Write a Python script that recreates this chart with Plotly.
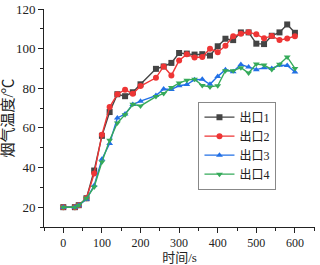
import plotly.graph_objects as go

time_s = [0, 30, 40, 60, 80, 100, 120, 140, 160, 180, 200, 240, 260, 280, 300,
          320, 340, 360, 380, 400, 420, 440, 460, 480, 500, 520, 540, 560, 580, 600]

outlet1 = [20, 20, 21, 24.5, 38.5, 56, 68, 77, 76, 78, 82, 89.8, 91, 92.8, 97.8,
           97.5, 97, 97.2, 96.5, 101.2, 105, 104.3, 108.2, 108.2, 102.5, 102.3, 106.5, 108.2, 112.2, 108]
outlet2 = [20, 20, 21, 24.5, 37, 56.5, 70.5, 77, 79.3, 77.2, 81.1, 85.3, 91, 86.5, 94,
           97.2, 95.5, 95.8, 100, 98.2, 101.4, 106.2, 107.5, 108.3, 107.2, 105.2, 106.4, 104.3, 105.1, 106.3]
outlet3 = [20, 20, 21, 24, 31, 44.2, 52.1, 65, 67, 71.8, 73.5, 76.3, 79.6, 79.4, 81.3,
           81.9, 84.3, 84.5, 82, 86, 89.3, 88.4, 92, 90.7, 89.4, 90.4, 90, 91.6, 91.5, 88.2]
outlet4 = [20, 20, 21, 24.5, 30.2, 42.8, 53.8, 62.5, 66.7, 71.9, 71.1, 75.8, 77.4, 80.4, 82.6,
           84.1, 84.6, 81.4, 80.7, 81.3, 88.9, 88.8, 90.4, 87.7, 92.2, 91.7, 89.5, 92.1, 95.8, 90]

names = ["出口1", "出口2", "出口3", "出口4"]
colors = ["#444444", "#EE3535", "#2270E6", "#35AA5A"]
symbols = ["square", "circle", "triangle-up", "triangle-down"]
series = [outlet1, outlet2, outlet3, outlet4]

FONT = "Liberation Serif, Noto Sans CJK SC, serif"

fig = go.Figure()
for name, ys, c, s in zip(names, series, colors, symbols):
    fig.add_trace(go.Scatter(
        x=time_s, y=ys, name=name, mode="lines+markers",
        line=dict(color=c, width=1.4),
        marker=dict(symbol=s, size=6, color=c),
    ))

axis_common = dict(
    showgrid=False, zeroline=False, showline=True, linecolor="#222222", linewidth=1,
    ticks="outside", ticklen=5, tickcolor="#222222", tickwidth=1, automargin=False,
)

fig.update_layout(
    width=320, height=265,
    margin=dict(l=44, r=5, t=9, b=38, autoexpand=False),
    plot_bgcolor="white", paper_bgcolor="white",
    font=dict(family=FONT, color="#222222"),
    xaxis=dict(range=[-50, 652], tickvals=[0, 100, 200, 300, 400, 500, 600],
               tickfont=dict(family=FONT, size=12, color="#222222"),
               minor=dict(ticks="outside", ticklen=3, dtick=50, tick0=0, tickcolor="#222222"),
               title=dict(text="时间/s", font=dict(family=FONT, size=13), standoff=6),
               **axis_common),
    yaxis=dict(range=[10, 120], tickvals=[20, 40, 60, 80, 100, 120],
               tickfont=dict(family=FONT, size=13, color="#222222"),
               minor=dict(ticks="outside", ticklen=3, dtick=10, tick0=0, tickcolor="#222222"),
               title=dict(text="烟气温度/℃", font=dict(family=FONT, size=15), standoff=2),
               **axis_common),
    legend=dict(x=0.57, y=0.575, xanchor="left", yanchor="top",
                bordercolor="#888888", borderwidth=1, bgcolor="white",
                font=dict(family=FONT, size=12), tracegroupgap=0,
                itemwidth=30),
    showlegend=True,
)

fig.write_html("out.html", config={"displayModeBar": False},
               post_script="document.body.style.margin='0';document.body.style.padding='0';")
